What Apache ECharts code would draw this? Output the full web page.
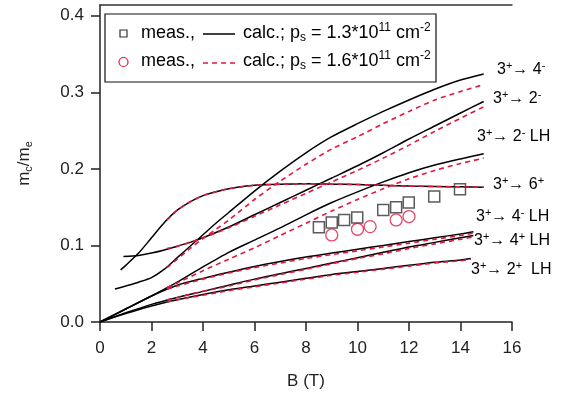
<!DOCTYPE html>
<html><head><meta charset="utf-8">
<script src="https://cdn.jsdelivr.net/npm/echarts@6/dist/echarts.min.js"></script>
<style>html,body{margin:0;padding:0;background:#fff}#c{width:567px;height:398px}</style>
</head><body><div id="c"></div>
<script>
// Cyclotron effective mass vs magnetic field for two hole densities.
// Calculated transitions, p_s = 1.3e11 cm^-2 (solid black): [B (T), m_c/m_e]
const calc13_4m   = [[0.58,0.043],[1,0.047],[1.5,0.052],[2,0.058],[2.5,0.069],[3,0.084],[3.5,0.099],[4,0.114],[4.5,0.129],[5,0.143],[6,0.171],[7,0.197],[8,0.221],[9,0.242],[10,0.259],[11,0.275],[12,0.290],[13,0.304],[14,0.316],[14.9,0.324]];
const calc13_2m   = [[0.91,0.0855],[1.5,0.087],[2,0.090],[2.5,0.094],[3,0.099],[3.5,0.104],[4,0.110],[5,0.124],[6,0.140],[7,0.156],[8,0.172],[9,0.188],[10,0.204],[11,0.221],[12,0.239],[13,0.256],[14,0.273],[14.9,0.288]];
const calc13_2mLH = [[0,0],[1,0.017],[2,0.034],[3,0.052],[4,0.072],[5,0.091],[6,0.107],[7,0.123],[8,0.140],[9,0.156],[10,0.170],[11,0.183],[12,0.195],[13,0.205],[14,0.213],[14.9,0.2196]];
const calc13_6p   = [[0.8,0.068],[1,0.074],[1.5,0.090],[2,0.110],[2.5,0.130],[3,0.146],[3.5,0.157],[4,0.165],[4.5,0.170],[5,0.174],[6,0.1785],[7,0.180],[8,0.1805],[9,0.180],[10,0.1795],[11,0.1785],[12,0.1775],[13,0.177],[14,0.1765],[14.9,0.176]];
const calc13_4mLH = [[0,0],[1,0.017],[2,0.034],[3,0.048],[4,0.057],[5,0.065],[6,0.0725],[7,0.079],[8,0.085],[9,0.090],[10,0.095],[11,0.100],[12,0.105],[13,0.110],[14,0.115],[14.5,0.118]];
const calc13_4pLH = [[0,0],[1,0.012],[2,0.023],[3,0.032],[4,0.040],[5,0.048],[6,0.056],[7,0.063],[8,0.070],[9,0.077],[10,0.084],[11,0.091],[12,0.098],[13,0.104],[14,0.110],[14.5,0.113]];
const calc13_2pLH = [[0,0],[1,0.011],[2,0.021],[3,0.029],[4,0.036],[5,0.042],[6,0.047],[7,0.052],[8,0.057],[9,0.062],[10,0.066],[11,0.070],[12,0.074],[13,0.078],[14,0.081],[14.4,0.083]];

// Calculated transitions, p_s = 1.6e11 cm^-2 (dashed red)
const calc16_4m   = [[2.6,0.071],[3,0.082],[3.5,0.096],[4,0.109],[4.5,0.121],[5,0.133],[6,0.160],[7,0.184],[8,0.206],[9,0.226],[10,0.242],[11,0.259],[12,0.275],[13,0.290],[14,0.301],[14.9,0.310]];
const calc16_2m   = [[2.6,0.096],[3,0.099],[3.5,0.104],[4,0.110],[5,0.123],[6,0.138],[7,0.153],[8,0.168],[9,0.183],[10,0.198],[11,0.214],[12,0.231],[13,0.249],[14,0.266],[14.9,0.281]];
const calc16_2mLH = [[2.6,0.045],[3,0.051],[4,0.067],[5,0.082],[6,0.097],[7,0.113],[8,0.129],[9,0.145],[10,0.160],[11,0.174],[12,0.187],[13,0.198],[14,0.207],[14.9,0.214]];
const calc16_6p   = [[2.6,0.133],[3,0.146],[3.5,0.157],[4,0.165],[4.5,0.170],[5,0.174],[6,0.1785],[7,0.180],[8,0.1805],[9,0.180],[10,0.1795],[11,0.1785],[12,0.1775],[13,0.177],[14,0.1765],[14.9,0.176]];
const calc16_4mLH = [[2.6,0.043],[3,0.047],[4,0.056],[5,0.064],[6,0.071],[7,0.077],[8,0.083],[9,0.088],[10,0.093],[11,0.098],[12,0.103],[13,0.108],[14,0.113],[14.5,0.116]];
const calc16_4pLH = [[2.6,0.029],[3,0.032],[4,0.040],[5,0.047],[6,0.055],[7,0.062],[8,0.069],[9,0.076],[10,0.083],[11,0.089],[12,0.096],[13,0.102],[14,0.108],[14.5,0.111]];
const calc16_2pLH = [[2.6,0.026],[3,0.029],[4,0.035],[5,0.041],[6,0.046],[7,0.051],[8,0.056],[9,0.061],[10,0.065],[11,0.069],[12,0.073],[13,0.077],[14,0.080],[14.4,0.082]];

// Measured cyclotron masses
const meas13 = [[8.5,0.1238],[9.0,0.1298],[9.48,0.1333],[9.99,0.1364],[11.0,0.1464],[11.5,0.150],[11.99,0.156],[12.98,0.1638],[13.98,0.1735]];
const meas16 = [[9.0,0.1137],[10.0,0.1211],[10.49,0.1246],[11.5,0.1333],[12.0,0.1377]];

// Axis ticks
const xTicks = [0,2,4,6,8,10,12,14,16];
const yTicks = [0,0.1,0.2,0.3,0.4];

// Transition labels at the right-hand end of the curves: [text, left px, centre px]
const transLabels = [
  ['{n|3}{sup|+}{n|\u2192 4}{sup|-}', 497, 70],
  ['{n|3}{sup|+}{n|\u2192 2}{sup|-}', 493, 99],
  ['{n|3}{sup|+}{n|\u2192 2}{sup|-}{n| LH}', 477, 137],
  ['{n|3}{sup|+}{n|\u2192 6}{sup|+}', 493, 185],
  ['{n|3}{sup|+}{n|\u2192 4}{sup|-}{n| LH}', 476, 217],
  ['{n|3}{sup|+}{n|\u2192 4}{sup|+}{n| LH}', 474, 241],
  ['{n|3}{sup|+}{n|\u2192 2}{sup|+}{n|  LH}', 471, 270]
];

const FONT = 'Liberation Sans, Arial, sans-serif';
const TXT = '#222';
const RED = '#e3173e';

const chart = echarts.init(document.getElementById('c'));

function solid(data) {
  return { type: 'line', data, smooth: 0.25, showSymbol: false, silent: true,
           lineStyle: { color: '#000', width: 1.5 }, z: 2 };
}
function dashed(data) {
  return { type: 'line', data, smooth: 0.25, showSymbol: false, silent: true,
           lineStyle: { color: RED, width: 1.6, type: [5, 4] }, z: 3 };
}

const supRich = {
  n: { fontFamily: FONT, fontSize: 16, color: TXT },
  sup: { fontFamily: FONT, fontSize: 11, color: TXT, padding: [0, 0, 9, 0] },
  sub: { fontFamily: FONT, fontSize: 11, color: TXT, padding: [9, 0, 0, 0] }
};

const legendRich = {
  t: { fontFamily: FONT, fontSize: 18, color: TXT },
  sup: { fontFamily: FONT, fontSize: 12, color: TXT, padding: [0, 0, 10, 0] },
  sub: { fontFamily: FONT, fontSize: 12, color: TXT, padding: [10, 0, 0, 0] }
};

const graphics = [
  { type: 'rect', shape: { x: 105, y: 14, width: 331, height: 68 }, style: { fill: '#fff', stroke: '#111', lineWidth: 1.2 }, z: 10 },
  { type: 'rect', shape: { x: 120, y: 30, width: 7, height: 7 }, style: { fill: 'none', stroke: '#333', lineWidth: 1.2 }, z: 11 },
  { type: 'circle', shape: { cx: 123.5, cy: 62, r: 4.5 }, style: { fill: 'none', stroke: RED, lineWidth: 1.2 }, z: 11 },
  { type: 'text', x: 141, y: 33, style: { text: '{t|meas.,}', rich: legendRich, verticalAlign: 'middle' }, z: 11 },
  { type: 'text', x: 141, y: 61, style: { text: '{t|meas.,}', rich: legendRich, verticalAlign: 'middle' }, z: 11 },
  { type: 'line', shape: { x1: 203, y1: 34, x2: 235, y2: 34 }, style: { stroke: '#000', lineWidth: 1.5 }, z: 11 },
  { type: 'line', shape: { x1: 203, y1: 63, x2: 235, y2: 63 }, style: { stroke: RED, lineWidth: 1.5, lineDash: [5, 4] }, z: 11 },
  { type: 'text', x: 243, y: 33, style: { text: '{t|calc.; p}{sub|s}{t| = 1.3*10}{sup|11}{t| cm}{sup|-2}', rich: legendRich, verticalAlign: 'middle' }, z: 11 },
  { type: 'text', x: 243, y: 61, style: { text: '{t|calc.; p}{sub|s}{t| = 1.6*10}{sup|11}{t| cm}{sup|-2}', rich: legendRich, verticalAlign: 'middle' }, z: 11 }
];
transLabels.forEach(([t, x, y]) => {
  graphics.push({ type: 'text', x, y, style: { text: t, rich: supRich, verticalAlign: 'middle' }, z: 11 });
});

chart.setOption({
  animation: false,
  backgroundColor: '#fff',
  grid: { left: 100, right: 55, top: 5, bottom: 76 },
  xAxis: [{
    type: 'value', min: 0, max: 16, interval: 2,
    name: 'B (T)', nameLocation: 'middle', nameGap: 51,
    nameTextStyle: { fontFamily: FONT, fontSize: 17, color: TXT },
    axisLine: { onZero: false, lineStyle: { color: '#222', width: 1.5 } },
    axisTick: { inside: false, length: 9, lineStyle: { color: '#222', width: 1.5 } },
    axisLabel: { fontFamily: FONT, fontSize: 17, color: TXT, margin: 18,
                 customValues: xTicks },
    splitLine: { show: false }
  }, {
    type: 'value', position: 'top', min: 0, max: 16,
    axisLine: { show: true, onZero: false, lineStyle: { color: '#333', width: 1.5 } },
    axisTick: { show: false }, axisLabel: { show: false }, splitLine: { show: false }
  }],
  yAxis: {
    type: 'value', min: 0, max: 0.414,
    name: '{a|m}{s|c}{a|/m}{s|e}', nameLocation: 'middle', nameGap: 66, nameRotate: 90,
    nameTextStyle: { rich: {
      a: { fontFamily: FONT, fontSize: 17, color: TXT },
      s: { fontFamily: FONT, fontSize: 11, color: TXT, padding: [8, 0, 0, 0] }
    } },
    axisLine: { onZero: false, lineStyle: { color: '#222', width: 1.5 } },
    axisTick: { length: 9, lineStyle: { color: '#222', width: 1.5 }, customValues: yTicks },
    axisLabel: { fontFamily: FONT, fontSize: 17, color: TXT, margin: 16,
                 customValues: yTicks, formatter: v => v.toFixed(1) },
    splitLine: { show: false }
  },
  series: [
    solid(calc13_4m), solid(calc13_2m), solid(calc13_2mLH), solid(calc13_6p),
    solid(calc13_4mLH), solid(calc13_4pLH), solid(calc13_2pLH),
    dashed(calc16_4m), dashed(calc16_2m), dashed(calc16_2mLH), dashed(calc16_6p),
    dashed(calc16_4mLH), dashed(calc16_4pLH), dashed(calc16_2pLH),
    { type: 'scatter', data: meas13, symbol: 'rect', symbolSize: 11, silent: true, z: 5,
      itemStyle: { color: 'rgba(0,0,0,0)', borderColor: '#333', borderWidth: 1.5 } },
    { type: 'scatter', data: meas16, symbol: 'circle', symbolSize: 12, silent: true, z: 5,
      itemStyle: { color: 'rgba(0,0,0,0)', borderColor: RED, borderWidth: 1.3 } }
  ],
  graphic: graphics
});
</script></body></html>
